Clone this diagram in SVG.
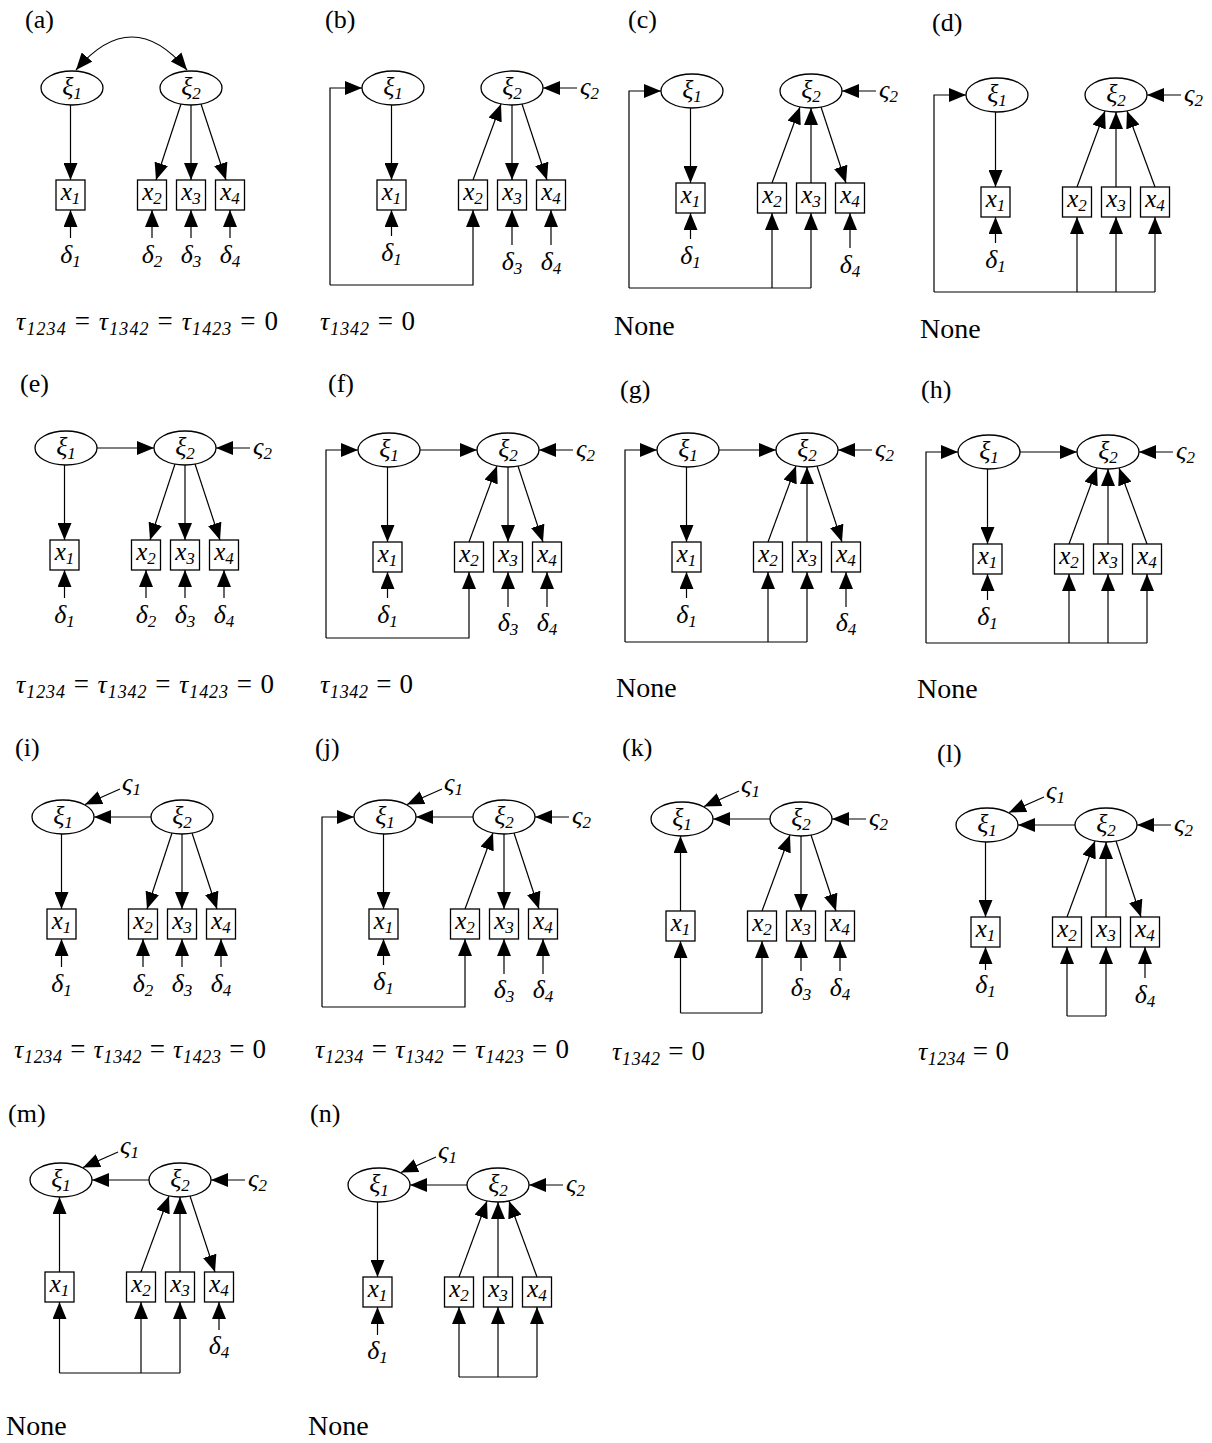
<svg xmlns="http://www.w3.org/2000/svg" width="1212" height="1443" viewBox="0 0 1212 1443">
<defs>
<style>
ellipse,rect{fill:#fff;stroke:#000;stroke-width:1.3}
.c{fill:none;stroke:#000;stroke-width:1.2;marker-end:url(#ah)}
.cs{marker-start:url(#ahs)}
.l{fill:none;stroke:#000;stroke-width:1.2}
.t{font-family:"Liberation Serif","DejaVu Serif",serif;font-style:italic;font-size:26px;text-anchor:middle}
.ts{font-family:"Liberation Serif","DejaVu Serif",serif;font-style:italic;font-size:26px;text-anchor:start}
.bx{font-size:25px}
.s{font-size:17px}
.lb{font-family:"Liberation Serif","DejaVu Serif",serif;font-size:26px}
.f{font-family:"Liberation Serif","DejaVu Serif",serif;font-size:27px}
.nn{font-family:"Liberation Serif","DejaVu Serif",serif;font-size:28px}
.fi{font-style:italic;font-size:26px}
.fs{font-style:italic;font-size:18px}
</style>
<marker id="ah" markerUnits="userSpaceOnUse" markerWidth="17" markerHeight="14" viewBox="0 0 17 14" refX="17" refY="7" orient="auto"><path d="M0,0L17,7L0,14z" fill="#000"/></marker>
<marker id="ahs" markerUnits="userSpaceOnUse" markerWidth="17" markerHeight="14" viewBox="0 0 17 14" refX="17" refY="7" orient="auto-start-reverse"><path d="M0,0L17,7L0,14z" fill="#000"/></marker>
</defs>
<rect x="0" y="0" width="1212" height="1443" style="fill:#fff;stroke:none"/>

<!-- (a) -->
<g id="panel-a">
<text class="lb" x="25" y="28">(a)</text>
<g transform="translate(72,88)">
<g id="a-xi1"><ellipse cx="0" cy="0" rx="31" ry="17"/><text class="t" x="0" y="7">ξ<tspan class="s" dy="4">1</tspan></text></g>
<g id="a-xi2"><ellipse cx="119" cy="0" rx="31" ry="17"/><text class="t" x="119" y="7">ξ<tspan class="s" dy="4">2</tspan></text></g>
<g id="a-x1"><rect x="-16" y="92" width="29" height="30"/><text class="t bx" x="-1.5" y="112">x<tspan class="s" dy="4">1</tspan></text></g>
<g id="a-x2"><rect x="65.5" y="92" width="29" height="30"/><text class="t bx" x="80" y="112">x<tspan class="s" dy="4">2</tspan></text></g>
<g id="a-x3"><rect x="104.5" y="92" width="29" height="30"/><text class="t bx" x="119" y="112">x<tspan class="s" dy="4">3</tspan></text></g>
<g id="a-x4"><rect x="143.5" y="92" width="29" height="30"/><text class="t bx" x="158" y="112">x<tspan class="s" dy="4">4</tspan></text></g>
<g id="a-d1"><text class="t" x="-1.5" y="175">δ<tspan class="s" dy="4">1</tspan></text></g>
<g id="a-d2"><text class="t" x="80" y="175">δ<tspan class="s" dy="4">2</tspan></text></g>
<g id="a-d3"><text class="t" x="119" y="175">δ<tspan class="s" dy="4">3</tspan></text></g>
<g id="a-d4"><text class="t" x="158" y="175">δ<tspan class="s" dy="4">4</tspan></text></g>
<g id="a-edges">
<path class="c cs" d="M4,-18 Q60,-84 115,-18"/>
<path class="c" d="M-1.5,17 L-1.5,92"/>
<path class="c" d="M109,16 L84,92"/>
<path class="c" d="M119,17 L119,92"/>
<path class="c" d="M129,16 L154,92"/>
<path class="c" d="M-1.5,150 L-1.5,122"/>
<path class="c" d="M80,150 L80,122"/>
<path class="c" d="M119,150 L119,122"/>
<path class="c" d="M158,150 L158,122"/>
</g>
</g>
<text class="f" x="16" y="330" textLength="262" lengthAdjust="spacing"><tspan class="fi">τ</tspan><tspan class="fs" dy="5">1234</tspan><tspan dy="-5"> = </tspan><tspan class="fi">τ</tspan><tspan class="fs" dy="5">1342</tspan><tspan dy="-5"> = </tspan><tspan class="fi">τ</tspan><tspan class="fs" dy="5">1423</tspan><tspan dy="-5"> = 0</tspan></text>
</g>

<!-- (b) -->
<g id="panel-b">
<text class="lb" x="325" y="28">(b)</text>
<g transform="translate(393,88)">
<g id="b-xi1"><ellipse cx="0" cy="0" rx="31" ry="17"/><text class="t" x="0" y="7">ξ<tspan class="s" dy="4">1</tspan></text></g>
<g id="b-xi2"><ellipse cx="119" cy="0" rx="31" ry="17"/><text class="t" x="119" y="7">ξ<tspan class="s" dy="4">2</tspan></text></g>
<g id="b-z2"><text class="ts" x="187" y="7">ς<tspan class="s" dy="4">2</tspan></text></g>
<g id="b-x1"><rect x="-16" y="92" width="29" height="30"/><text class="t bx" x="-1.5" y="112">x<tspan class="s" dy="4">1</tspan></text></g>
<g id="b-x2"><rect x="65.5" y="92" width="29" height="30"/><text class="t bx" x="80" y="112">x<tspan class="s" dy="4">2</tspan></text></g>
<g id="b-x3"><rect x="104.5" y="92" width="29" height="30"/><text class="t bx" x="119" y="112">x<tspan class="s" dy="4">3</tspan></text></g>
<g id="b-x4"><rect x="143.5" y="92" width="29" height="30"/><text class="t bx" x="158" y="112">x<tspan class="s" dy="4">4</tspan></text></g>
<g id="b-d1"><text class="t" x="-1.5" y="173">δ<tspan class="s" dy="4">1</tspan></text></g>
<g id="b-d3"><text class="t" x="119" y="182">δ<tspan class="s" dy="4">3</tspan></text></g>
<g id="b-d4"><text class="t" x="158" y="182">δ<tspan class="s" dy="4">4</tspan></text></g>
<g id="b-edges">
<path class="c" d="M-63,197 L-63,0 L-31,0"/>
<path class="c" d="M-63,197 L80,197 L80,122"/>
<path class="c" d="M-1.5,17 L-1.5,92"/>
<path class="c" d="M80,92 L108,16"/>
<path class="c" d="M119,17 L119,92"/>
<path class="c" d="M129,16 L154,92"/>
<path class="c" d="M184,0 L150,0"/>
<path class="c" d="M-1.5,148 L-1.5,122"/>
<path class="c" d="M119,157 L119,122"/>
<path class="c" d="M158,157 L158,122"/>
</g>
</g>
<text class="f" x="320" y="330" textLength="95" lengthAdjust="spacing"><tspan class="fi">τ</tspan><tspan class="fs" dy="5">1342</tspan><tspan dy="-5"> = 0</tspan></text>
</g>

<!-- (c) -->
<g id="panel-c">
<text class="lb" x="628" y="28">(c)</text>
<g transform="translate(692,91)">
<g id="c-xi1"><ellipse cx="0" cy="0" rx="31" ry="17"/><text class="t" x="0" y="7">ξ<tspan class="s" dy="4">1</tspan></text></g>
<g id="c-xi2"><ellipse cx="119" cy="0" rx="31" ry="17"/><text class="t" x="119" y="7">ξ<tspan class="s" dy="4">2</tspan></text></g>
<g id="c-z2"><text class="ts" x="187" y="7">ς<tspan class="s" dy="4">2</tspan></text></g>
<g id="c-x1"><rect x="-16" y="92" width="29" height="30"/><text class="t bx" x="-1.5" y="112">x<tspan class="s" dy="4">1</tspan></text></g>
<g id="c-x2"><rect x="65.5" y="92" width="29" height="30"/><text class="t bx" x="80" y="112">x<tspan class="s" dy="4">2</tspan></text></g>
<g id="c-x3"><rect x="104.5" y="92" width="29" height="30"/><text class="t bx" x="119" y="112">x<tspan class="s" dy="4">3</tspan></text></g>
<g id="c-x4"><rect x="143.5" y="92" width="29" height="30"/><text class="t bx" x="158" y="112">x<tspan class="s" dy="4">4</tspan></text></g>
<g id="c-d1"><text class="t" x="-1.5" y="173">δ<tspan class="s" dy="4">1</tspan></text></g>
<g id="c-d4"><text class="t" x="158" y="182">δ<tspan class="s" dy="4">4</tspan></text></g>
<g id="c-edges">
<path class="c" d="M-63,197 L-63,0 L-31,0"/>
<path class="l" d="M-63,197 L119,197"/>
<path class="c" d="M80,197 L80,122"/>
<path class="c" d="M119,197 L119,122"/>
<path class="c" d="M-1.5,17 L-1.5,92"/>
<path class="c" d="M80,92 L108,16"/>
<path class="c" d="M119,92 L119,17"/>
<path class="c" d="M129,16 L154,92"/>
<path class="c" d="M184,0 L150,0"/>
<path class="c" d="M-1.5,148 L-1.5,122"/>
<path class="c" d="M158,157 L158,122"/>
</g>
</g>
<text class="nn" x="614" y="335">None</text>
</g>

<!-- (d) -->
<g id="panel-d">
<text class="lb" x="932" y="31">(d)</text>
<g transform="translate(997,95)">
<g id="d-xi1"><ellipse cx="0" cy="0" rx="31" ry="17"/><text class="t" x="0" y="7">ξ<tspan class="s" dy="4">1</tspan></text></g>
<g id="d-xi2"><ellipse cx="119" cy="0" rx="31" ry="17"/><text class="t" x="119" y="7">ξ<tspan class="s" dy="4">2</tspan></text></g>
<g id="d-z2"><text class="ts" x="187" y="7">ς<tspan class="s" dy="4">2</tspan></text></g>
<g id="d-x1"><rect x="-16" y="92" width="29" height="30"/><text class="t bx" x="-1.5" y="112">x<tspan class="s" dy="4">1</tspan></text></g>
<g id="d-x2"><rect x="65.5" y="92" width="29" height="30"/><text class="t bx" x="80" y="112">x<tspan class="s" dy="4">2</tspan></text></g>
<g id="d-x3"><rect x="104.5" y="92" width="29" height="30"/><text class="t bx" x="119" y="112">x<tspan class="s" dy="4">3</tspan></text></g>
<g id="d-x4"><rect x="143.5" y="92" width="29" height="30"/><text class="t bx" x="158" y="112">x<tspan class="s" dy="4">4</tspan></text></g>
<g id="d-d1"><text class="t" x="-1.5" y="173">δ<tspan class="s" dy="4">1</tspan></text></g>
<g id="d-edges">
<path class="c" d="M-63,197 L-63,0 L-31,0"/>
<path class="l" d="M-63,197 L158,197"/>
<path class="c" d="M80,197 L80,122"/>
<path class="c" d="M119,197 L119,122"/>
<path class="c" d="M158,197 L158,122"/>
<path class="c" d="M-1.5,17 L-1.5,92"/>
<path class="c" d="M80,92 L108,16"/>
<path class="c" d="M119,92 L119,17"/>
<path class="c" d="M158,92 L130,16"/>
<path class="c" d="M184,0 L150,0"/>
<path class="c" d="M-1.5,148 L-1.5,122"/>
</g>
</g>
<text class="nn" x="920" y="338">None</text>
</g>

<!-- (e) -->
<g id="panel-e">
<text class="lb" x="20" y="392">(e)</text>
<g transform="translate(66,448)">
<g id="e-xi1"><ellipse cx="0" cy="0" rx="31" ry="17"/><text class="t" x="0" y="7">ξ<tspan class="s" dy="4">1</tspan></text></g>
<g id="e-xi2"><ellipse cx="119" cy="0" rx="31" ry="17"/><text class="t" x="119" y="7">ξ<tspan class="s" dy="4">2</tspan></text></g>
<g id="e-z2"><text class="ts" x="187" y="7">ς<tspan class="s" dy="4">2</tspan></text></g>
<g id="e-x1"><rect x="-16" y="92" width="29" height="30"/><text class="t bx" x="-1.5" y="112">x<tspan class="s" dy="4">1</tspan></text></g>
<g id="e-x2"><rect x="65.5" y="92" width="29" height="30"/><text class="t bx" x="80" y="112">x<tspan class="s" dy="4">2</tspan></text></g>
<g id="e-x3"><rect x="104.5" y="92" width="29" height="30"/><text class="t bx" x="119" y="112">x<tspan class="s" dy="4">3</tspan></text></g>
<g id="e-x4"><rect x="143.5" y="92" width="29" height="30"/><text class="t bx" x="158" y="112">x<tspan class="s" dy="4">4</tspan></text></g>
<g id="e-d1"><text class="t" x="-1.5" y="175">δ<tspan class="s" dy="4">1</tspan></text></g>
<g id="e-d2"><text class="t" x="80" y="175">δ<tspan class="s" dy="4">2</tspan></text></g>
<g id="e-d3"><text class="t" x="119" y="175">δ<tspan class="s" dy="4">3</tspan></text></g>
<g id="e-d4"><text class="t" x="158" y="175">δ<tspan class="s" dy="4">4</tspan></text></g>
<g id="e-edges">
<path class="c" d="M31,0 L88,0"/>
<path class="c" d="M184,0 L150,0"/>
<path class="c" d="M-1.5,17 L-1.5,92"/>
<path class="c" d="M109,16 L84,92"/>
<path class="c" d="M119,17 L119,92"/>
<path class="c" d="M129,16 L154,92"/>
<path class="c" d="M-1.5,150 L-1.5,122"/>
<path class="c" d="M80,150 L80,122"/>
<path class="c" d="M119,150 L119,122"/>
<path class="c" d="M158,150 L158,122"/>
</g>
</g>
<text class="f" x="16" y="693" textLength="258" lengthAdjust="spacing"><tspan class="fi">τ</tspan><tspan class="fs" dy="5">1234</tspan><tspan dy="-5"> = </tspan><tspan class="fi">τ</tspan><tspan class="fs" dy="5">1342</tspan><tspan dy="-5"> = </tspan><tspan class="fi">τ</tspan><tspan class="fs" dy="5">1423</tspan><tspan dy="-5"> = 0</tspan></text>
</g>

<!-- (f) -->
<g id="panel-f">
<text class="lb" x="328" y="392">(f)</text>
<g transform="translate(389,450)">
<g id="f-xi1"><ellipse cx="0" cy="0" rx="31" ry="17"/><text class="t" x="0" y="7">ξ<tspan class="s" dy="4">1</tspan></text></g>
<g id="f-xi2"><ellipse cx="119" cy="0" rx="31" ry="17"/><text class="t" x="119" y="7">ξ<tspan class="s" dy="4">2</tspan></text></g>
<g id="f-z2"><text class="ts" x="187" y="7">ς<tspan class="s" dy="4">2</tspan></text></g>
<g id="f-x1"><rect x="-16" y="92" width="29" height="30"/><text class="t bx" x="-1.5" y="112">x<tspan class="s" dy="4">1</tspan></text></g>
<g id="f-x2"><rect x="65.5" y="92" width="29" height="30"/><text class="t bx" x="80" y="112">x<tspan class="s" dy="4">2</tspan></text></g>
<g id="f-x3"><rect x="104.5" y="92" width="29" height="30"/><text class="t bx" x="119" y="112">x<tspan class="s" dy="4">3</tspan></text></g>
<g id="f-x4"><rect x="143.5" y="92" width="29" height="30"/><text class="t bx" x="158" y="112">x<tspan class="s" dy="4">4</tspan></text></g>
<g id="f-d1"><text class="t" x="-1.5" y="173">δ<tspan class="s" dy="4">1</tspan></text></g>
<g id="f-d3"><text class="t" x="119" y="181">δ<tspan class="s" dy="4">3</tspan></text></g>
<g id="f-d4"><text class="t" x="158" y="181">δ<tspan class="s" dy="4">4</tspan></text></g>
<g id="f-edges">
<path class="c" d="M-63,188 L-63,0 L-31,0"/>
<path class="c" d="M-63,188 L80,188 L80,122"/>
<path class="c" d="M31,0 L88,0"/>
<path class="c" d="M-1.5,17 L-1.5,92"/>
<path class="c" d="M80,92 L108,16"/>
<path class="c" d="M119,17 L119,92"/>
<path class="c" d="M129,16 L154,92"/>
<path class="c" d="M184,0 L150,0"/>
<path class="c" d="M-1.5,148 L-1.5,122"/>
<path class="c" d="M119,157 L119,122"/>
<path class="c" d="M158,157 L158,122"/>
</g>
</g>
<text class="f" x="320" y="693" textLength="93" lengthAdjust="spacing"><tspan class="fi">τ</tspan><tspan class="fs" dy="5">1342</tspan><tspan dy="-5"> = 0</tspan></text>
</g>

<!-- (g) -->
<g id="panel-g">
<text class="lb" x="620" y="398">(g)</text>
<g transform="translate(688,450)">
<g id="g-xi1"><ellipse cx="0" cy="0" rx="31" ry="17"/><text class="t" x="0" y="7">ξ<tspan class="s" dy="4">1</tspan></text></g>
<g id="g-xi2"><ellipse cx="119" cy="0" rx="31" ry="17"/><text class="t" x="119" y="7">ξ<tspan class="s" dy="4">2</tspan></text></g>
<g id="g-z2"><text class="ts" x="187" y="7">ς<tspan class="s" dy="4">2</tspan></text></g>
<g id="g-x1"><rect x="-16" y="92" width="29" height="30"/><text class="t bx" x="-1.5" y="112">x<tspan class="s" dy="4">1</tspan></text></g>
<g id="g-x2"><rect x="65.5" y="92" width="29" height="30"/><text class="t bx" x="80" y="112">x<tspan class="s" dy="4">2</tspan></text></g>
<g id="g-x3"><rect x="104.5" y="92" width="29" height="30"/><text class="t bx" x="119" y="112">x<tspan class="s" dy="4">3</tspan></text></g>
<g id="g-x4"><rect x="143.5" y="92" width="29" height="30"/><text class="t bx" x="158" y="112">x<tspan class="s" dy="4">4</tspan></text></g>
<g id="g-d1"><text class="t" x="-1.5" y="173">δ<tspan class="s" dy="4">1</tspan></text></g>
<g id="g-d4"><text class="t" x="158" y="181">δ<tspan class="s" dy="4">4</tspan></text></g>
<g id="g-edges">
<path class="c" d="M-63,192 L-63,0 L-31,0"/>
<path class="l" d="M-63,192 L119,192"/>
<path class="c" d="M80,192 L80,122"/>
<path class="c" d="M119,192 L119,122"/>
<path class="c" d="M31,0 L88,0"/>
<path class="c" d="M-1.5,17 L-1.5,92"/>
<path class="c" d="M80,92 L108,16"/>
<path class="c" d="M119,92 L119,17"/>
<path class="c" d="M129,16 L154,92"/>
<path class="c" d="M184,0 L150,0"/>
<path class="c" d="M-1.5,148 L-1.5,122"/>
<path class="c" d="M158,157 L158,122"/>
</g>
</g>
<text class="nn" x="616" y="697">None</text>
</g>

<!-- (h) -->
<g id="panel-h">
<text class="lb" x="921" y="398">(h)</text>
<g transform="translate(989,452)">
<g id="h-xi1"><ellipse cx="0" cy="0" rx="31" ry="17"/><text class="t" x="0" y="7">ξ<tspan class="s" dy="4">1</tspan></text></g>
<g id="h-xi2"><ellipse cx="119" cy="0" rx="31" ry="17"/><text class="t" x="119" y="7">ξ<tspan class="s" dy="4">2</tspan></text></g>
<g id="h-z2"><text class="ts" x="187" y="7">ς<tspan class="s" dy="4">2</tspan></text></g>
<g id="h-x1"><rect x="-16" y="92" width="29" height="30"/><text class="t bx" x="-1.5" y="112">x<tspan class="s" dy="4">1</tspan></text></g>
<g id="h-x2"><rect x="65.5" y="92" width="29" height="30"/><text class="t bx" x="80" y="112">x<tspan class="s" dy="4">2</tspan></text></g>
<g id="h-x3"><rect x="104.5" y="92" width="29" height="30"/><text class="t bx" x="119" y="112">x<tspan class="s" dy="4">3</tspan></text></g>
<g id="h-x4"><rect x="143.5" y="92" width="29" height="30"/><text class="t bx" x="158" y="112">x<tspan class="s" dy="4">4</tspan></text></g>
<g id="h-d1"><text class="t" x="-1.5" y="173">δ<tspan class="s" dy="4">1</tspan></text></g>
<g id="h-edges">
<path class="c" d="M-63,191 L-63,0 L-31,0"/>
<path class="l" d="M-63,191 L158,191"/>
<path class="c" d="M80,191 L80,122"/>
<path class="c" d="M119,191 L119,122"/>
<path class="c" d="M158,191 L158,122"/>
<path class="c" d="M31,0 L88,0"/>
<path class="c" d="M-1.5,17 L-1.5,92"/>
<path class="c" d="M80,92 L108,16"/>
<path class="c" d="M119,92 L119,17"/>
<path class="c" d="M158,92 L130,16"/>
<path class="c" d="M184,0 L150,0"/>
<path class="c" d="M-1.5,148 L-1.5,122"/>
</g>
</g>
<text class="nn" x="917" y="698">None</text>
</g>

<!-- (i) -->
<g id="panel-i">
<text class="lb" x="15" y="756">(i)</text>
<g transform="translate(63,817)">
<g id="i-xi1"><ellipse cx="0" cy="0" rx="31" ry="17"/><text class="t" x="0" y="7">ξ<tspan class="s" dy="4">1</tspan></text></g>
<g id="i-xi2"><ellipse cx="119" cy="0" rx="31" ry="17"/><text class="t" x="119" y="7">ξ<tspan class="s" dy="4">2</tspan></text></g>
<g id="i-z1"><text class="ts" x="59" y="-26">ς<tspan class="s" dy="4">1</tspan></text></g>
<g id="i-x1"><rect x="-16" y="92" width="29" height="30"/><text class="t bx" x="-1.5" y="112">x<tspan class="s" dy="4">1</tspan></text></g>
<g id="i-x2"><rect x="65.5" y="92" width="29" height="30"/><text class="t bx" x="80" y="112">x<tspan class="s" dy="4">2</tspan></text></g>
<g id="i-x3"><rect x="104.5" y="92" width="29" height="30"/><text class="t bx" x="119" y="112">x<tspan class="s" dy="4">3</tspan></text></g>
<g id="i-x4"><rect x="143.5" y="92" width="29" height="30"/><text class="t bx" x="158" y="112">x<tspan class="s" dy="4">4</tspan></text></g>
<g id="i-d1"><text class="t" x="-1.5" y="175">δ<tspan class="s" dy="4">1</tspan></text></g>
<g id="i-d2"><text class="t" x="80" y="175">δ<tspan class="s" dy="4">2</tspan></text></g>
<g id="i-d3"><text class="t" x="119" y="175">δ<tspan class="s" dy="4">3</tspan></text></g>
<g id="i-d4"><text class="t" x="158" y="175">δ<tspan class="s" dy="4">4</tspan></text></g>
<g id="i-edges">
<path class="c" d="M88,0 L31,0"/>
<path class="c" d="M57,-28 L22,-12.5"/>
<path class="c" d="M-1.5,17 L-1.5,92"/>
<path class="c" d="M109,16 L84,92"/>
<path class="c" d="M119,17 L119,92"/>
<path class="c" d="M129,16 L154,92"/>
<path class="c" d="M-1.5,150 L-1.5,122"/>
<path class="c" d="M80,150 L80,122"/>
<path class="c" d="M119,150 L119,122"/>
<path class="c" d="M158,150 L158,122"/>
</g>
</g>
<text class="f" x="14" y="1058" textLength="252" lengthAdjust="spacing"><tspan class="fi">τ</tspan><tspan class="fs" dy="5">1234</tspan><tspan dy="-5"> = </tspan><tspan class="fi">τ</tspan><tspan class="fs" dy="5">1342</tspan><tspan dy="-5"> = </tspan><tspan class="fi">τ</tspan><tspan class="fs" dy="5">1423</tspan><tspan dy="-5"> = 0</tspan></text>
</g>

<!-- (j) -->
<g id="panel-j">
<text class="lb" x="315" y="756">(j)</text>
<g transform="translate(385,817)">
<g id="j-xi1"><ellipse cx="0" cy="0" rx="31" ry="17"/><text class="t" x="0" y="7">ξ<tspan class="s" dy="4">1</tspan></text></g>
<g id="j-xi2"><ellipse cx="119" cy="0" rx="31" ry="17"/><text class="t" x="119" y="7">ξ<tspan class="s" dy="4">2</tspan></text></g>
<g id="j-z1"><text class="ts" x="59" y="-26">ς<tspan class="s" dy="4">1</tspan></text></g>
<g id="j-z2"><text class="ts" x="187" y="7">ς<tspan class="s" dy="4">2</tspan></text></g>
<g id="j-x1"><rect x="-16" y="92" width="29" height="30"/><text class="t bx" x="-1.5" y="112">x<tspan class="s" dy="4">1</tspan></text></g>
<g id="j-x2"><rect x="65.5" y="92" width="29" height="30"/><text class="t bx" x="80" y="112">x<tspan class="s" dy="4">2</tspan></text></g>
<g id="j-x3"><rect x="104.5" y="92" width="29" height="30"/><text class="t bx" x="119" y="112">x<tspan class="s" dy="4">3</tspan></text></g>
<g id="j-x4"><rect x="143.5" y="92" width="29" height="30"/><text class="t bx" x="158" y="112">x<tspan class="s" dy="4">4</tspan></text></g>
<g id="j-d1"><text class="t" x="-1.5" y="173">δ<tspan class="s" dy="4">1</tspan></text></g>
<g id="j-d3"><text class="t" x="119" y="181">δ<tspan class="s" dy="4">3</tspan></text></g>
<g id="j-d4"><text class="t" x="158" y="181">δ<tspan class="s" dy="4">4</tspan></text></g>
<g id="j-edges">
<path class="c" d="M-63,190 L-63,0 L-31,0"/>
<path class="c" d="M-63,190 L80,190 L80,122"/>
<path class="c" d="M88,0 L31,0"/>
<path class="c" d="M57,-28 L22,-12.5"/>
<path class="c" d="M184,0 L150,0"/>
<path class="c" d="M-1.5,17 L-1.5,92"/>
<path class="c" d="M80,92 L108,16"/>
<path class="c" d="M119,17 L119,92"/>
<path class="c" d="M129,16 L154,92"/>
<path class="c" d="M-1.5,148 L-1.5,122"/>
<path class="c" d="M119,157 L119,122"/>
<path class="c" d="M158,157 L158,122"/>
</g>
</g>
<text class="f" x="315" y="1058" textLength="254" lengthAdjust="spacing"><tspan class="fi">τ</tspan><tspan class="fs" dy="5">1234</tspan><tspan dy="-5"> = </tspan><tspan class="fi">τ</tspan><tspan class="fs" dy="5">1342</tspan><tspan dy="-5"> = </tspan><tspan class="fi">τ</tspan><tspan class="fs" dy="5">1423</tspan><tspan dy="-5"> = 0</tspan></text>
</g>

<!-- (k) -->
<g id="panel-k">
<text class="lb" x="622" y="756">(k)</text>
<g transform="translate(682,819)">
<g id="k-xi1"><ellipse cx="0" cy="0" rx="31" ry="17"/><text class="t" x="0" y="7">ξ<tspan class="s" dy="4">1</tspan></text></g>
<g id="k-xi2"><ellipse cx="119" cy="0" rx="31" ry="17"/><text class="t" x="119" y="7">ξ<tspan class="s" dy="4">2</tspan></text></g>
<g id="k-z1"><text class="ts" x="59" y="-26">ς<tspan class="s" dy="4">1</tspan></text></g>
<g id="k-z2"><text class="ts" x="187" y="7">ς<tspan class="s" dy="4">2</tspan></text></g>
<g id="k-x1"><rect x="-16" y="92" width="29" height="30"/><text class="t bx" x="-1.5" y="112">x<tspan class="s" dy="4">1</tspan></text></g>
<g id="k-x2"><rect x="65.5" y="92" width="29" height="30"/><text class="t bx" x="80" y="112">x<tspan class="s" dy="4">2</tspan></text></g>
<g id="k-x3"><rect x="104.5" y="92" width="29" height="30"/><text class="t bx" x="119" y="112">x<tspan class="s" dy="4">3</tspan></text></g>
<g id="k-x4"><rect x="143.5" y="92" width="29" height="30"/><text class="t bx" x="158" y="112">x<tspan class="s" dy="4">4</tspan></text></g>
<g id="k-d3"><text class="t" x="119" y="177">δ<tspan class="s" dy="4">3</tspan></text></g>
<g id="k-d4"><text class="t" x="158" y="177">δ<tspan class="s" dy="4">4</tspan></text></g>
<g id="k-edges">
<path class="c" d="M88,0 L31,0"/>
<path class="c" d="M57,-28 L22,-12.5"/>
<path class="c" d="M184,0 L150,0"/>
<path class="c" d="M-1.5,92 L-1.5,17"/>
<path class="c" d="M80,92 L108,16"/>
<path class="c" d="M119,17 L119,92"/>
<path class="c" d="M129,16 L154,92"/>
<path class="l" d="M-1.5,194 L80,194"/>
<path class="c" d="M-1.5,194 L-1.5,122"/>
<path class="c" d="M80,194 L80,122"/>
<path class="c" d="M119,152 L119,122"/>
<path class="c" d="M158,152 L158,122"/>
</g>
</g>
<text class="f" x="612" y="1060" textLength="93" lengthAdjust="spacing"><tspan class="fi">τ</tspan><tspan class="fs" dy="5">1342</tspan><tspan dy="-5"> = 0</tspan></text>
</g>

<!-- (l) -->
<g id="panel-l">
<text class="lb" x="937" y="762">(l)</text>
<g transform="translate(987,825)">
<g id="l-xi1"><ellipse cx="0" cy="0" rx="31" ry="17"/><text class="t" x="0" y="7">ξ<tspan class="s" dy="4">1</tspan></text></g>
<g id="l-xi2"><ellipse cx="119" cy="0" rx="31" ry="17"/><text class="t" x="119" y="7">ξ<tspan class="s" dy="4">2</tspan></text></g>
<g id="l-z1"><text class="ts" x="59" y="-26">ς<tspan class="s" dy="4">1</tspan></text></g>
<g id="l-z2"><text class="ts" x="187" y="7">ς<tspan class="s" dy="4">2</tspan></text></g>
<g id="l-x1"><rect x="-16" y="92" width="29" height="30"/><text class="t bx" x="-1.5" y="112">x<tspan class="s" dy="4">1</tspan></text></g>
<g id="l-x2"><rect x="65.5" y="92" width="29" height="30"/><text class="t bx" x="80" y="112">x<tspan class="s" dy="4">2</tspan></text></g>
<g id="l-x3"><rect x="104.5" y="92" width="29" height="30"/><text class="t bx" x="119" y="112">x<tspan class="s" dy="4">3</tspan></text></g>
<g id="l-x4"><rect x="143.5" y="92" width="29" height="30"/><text class="t bx" x="158" y="112">x<tspan class="s" dy="4">4</tspan></text></g>
<g id="l-d1"><text class="t" x="-1.5" y="168">δ<tspan class="s" dy="4">1</tspan></text></g>
<g id="l-d4"><text class="t" x="158" y="178">δ<tspan class="s" dy="4">4</tspan></text></g>
<g id="l-edges">
<path class="c" d="M88,0 L31,0"/>
<path class="c" d="M57,-28 L22,-12.5"/>
<path class="c" d="M184,0 L150,0"/>
<path class="c" d="M-1.5,17 L-1.5,92"/>
<path class="c" d="M80,92 L108,16"/>
<path class="c" d="M119,92 L119,17"/>
<path class="c" d="M129,16 L154,92"/>
<path class="l" d="M80,191 L119,191"/>
<path class="c" d="M80,191 L80,122"/>
<path class="c" d="M119,191 L119,122"/>
<path class="c" d="M-1.5,145 L-1.5,122"/>
<path class="c" d="M158,153 L158,122"/>
</g>
</g>
<text class="f" x="918" y="1060" textLength="91" lengthAdjust="spacing"><tspan class="fi">τ</tspan><tspan class="fs" dy="5">1234</tspan><tspan dy="-5"> = 0</tspan></text>
</g>

<!-- (m) -->
<g id="panel-m">
<text class="lb" x="8" y="1122">(m)</text>
<g transform="translate(61,1180)">
<g id="m-xi1"><ellipse cx="0" cy="0" rx="31" ry="17"/><text class="t" x="0" y="7">ξ<tspan class="s" dy="4">1</tspan></text></g>
<g id="m-xi2"><ellipse cx="119" cy="0" rx="31" ry="17"/><text class="t" x="119" y="7">ξ<tspan class="s" dy="4">2</tspan></text></g>
<g id="m-z1"><text class="ts" x="59" y="-26">ς<tspan class="s" dy="4">1</tspan></text></g>
<g id="m-z2"><text class="ts" x="187" y="7">ς<tspan class="s" dy="4">2</tspan></text></g>
<g id="m-x1"><rect x="-16" y="92" width="29" height="30"/><text class="t bx" x="-1.5" y="112">x<tspan class="s" dy="4">1</tspan></text></g>
<g id="m-x2"><rect x="65.5" y="92" width="29" height="30"/><text class="t bx" x="80" y="112">x<tspan class="s" dy="4">2</tspan></text></g>
<g id="m-x3"><rect x="104.5" y="92" width="29" height="30"/><text class="t bx" x="119" y="112">x<tspan class="s" dy="4">3</tspan></text></g>
<g id="m-x4"><rect x="143.5" y="92" width="29" height="30"/><text class="t bx" x="158" y="112">x<tspan class="s" dy="4">4</tspan></text></g>
<g id="m-d4"><text class="t" x="158" y="174">δ<tspan class="s" dy="4">4</tspan></text></g>
<g id="m-edges">
<path class="c" d="M88,0 L31,0"/>
<path class="c" d="M57,-28 L22,-12.5"/>
<path class="c" d="M184,0 L150,0"/>
<path class="c" d="M-1.5,92 L-1.5,17"/>
<path class="c" d="M80,92 L108,16"/>
<path class="c" d="M119,92 L119,17"/>
<path class="c" d="M129,16 L154,92"/>
<path class="l" d="M-1.5,193 L119,193"/>
<path class="c" d="M-1.5,193 L-1.5,122"/>
<path class="c" d="M80,193 L80,122"/>
<path class="c" d="M119,193 L119,122"/>
<path class="c" d="M158,150 L158,122"/>
</g>
</g>
<text class="nn" x="6" y="1435">None</text>
</g>

<!-- (n) -->
<g id="panel-n">
<text class="lb" x="310" y="1122">(n)</text>
<g transform="translate(379,1185)">
<g id="n-xi1"><ellipse cx="0" cy="0" rx="31" ry="17"/><text class="t" x="0" y="7">ξ<tspan class="s" dy="4">1</tspan></text></g>
<g id="n-xi2"><ellipse cx="119" cy="0" rx="31" ry="17"/><text class="t" x="119" y="7">ξ<tspan class="s" dy="4">2</tspan></text></g>
<g id="n-z1"><text class="ts" x="59" y="-26">ς<tspan class="s" dy="4">1</tspan></text></g>
<g id="n-z2"><text class="ts" x="187" y="7">ς<tspan class="s" dy="4">2</tspan></text></g>
<g id="n-x1"><rect x="-16" y="92" width="29" height="30"/><text class="t bx" x="-1.5" y="112">x<tspan class="s" dy="4">1</tspan></text></g>
<g id="n-x2"><rect x="65.5" y="92" width="29" height="30"/><text class="t bx" x="80" y="112">x<tspan class="s" dy="4">2</tspan></text></g>
<g id="n-x3"><rect x="104.5" y="92" width="29" height="30"/><text class="t bx" x="119" y="112">x<tspan class="s" dy="4">3</tspan></text></g>
<g id="n-x4"><rect x="143.5" y="92" width="29" height="30"/><text class="t bx" x="158" y="112">x<tspan class="s" dy="4">4</tspan></text></g>
<g id="n-d1"><text class="t" x="-1.5" y="174">δ<tspan class="s" dy="4">1</tspan></text></g>
<g id="n-edges">
<path class="c" d="M88,0 L31,0"/>
<path class="c" d="M57,-28 L22,-12.5"/>
<path class="c" d="M184,0 L150,0"/>
<path class="c" d="M-1.5,17 L-1.5,92"/>
<path class="c" d="M80,92 L108,16"/>
<path class="c" d="M119,92 L119,17"/>
<path class="c" d="M158,92 L130,16"/>
<path class="l" d="M80,192 L158,192"/>
<path class="c" d="M80,192 L80,122"/>
<path class="c" d="M119,192 L119,122"/>
<path class="c" d="M158,192 L158,122"/>
<path class="c" d="M-1.5,150 L-1.5,122"/>
</g>
</g>
<text class="nn" x="308" y="1435">None</text>
</g>
</svg>
